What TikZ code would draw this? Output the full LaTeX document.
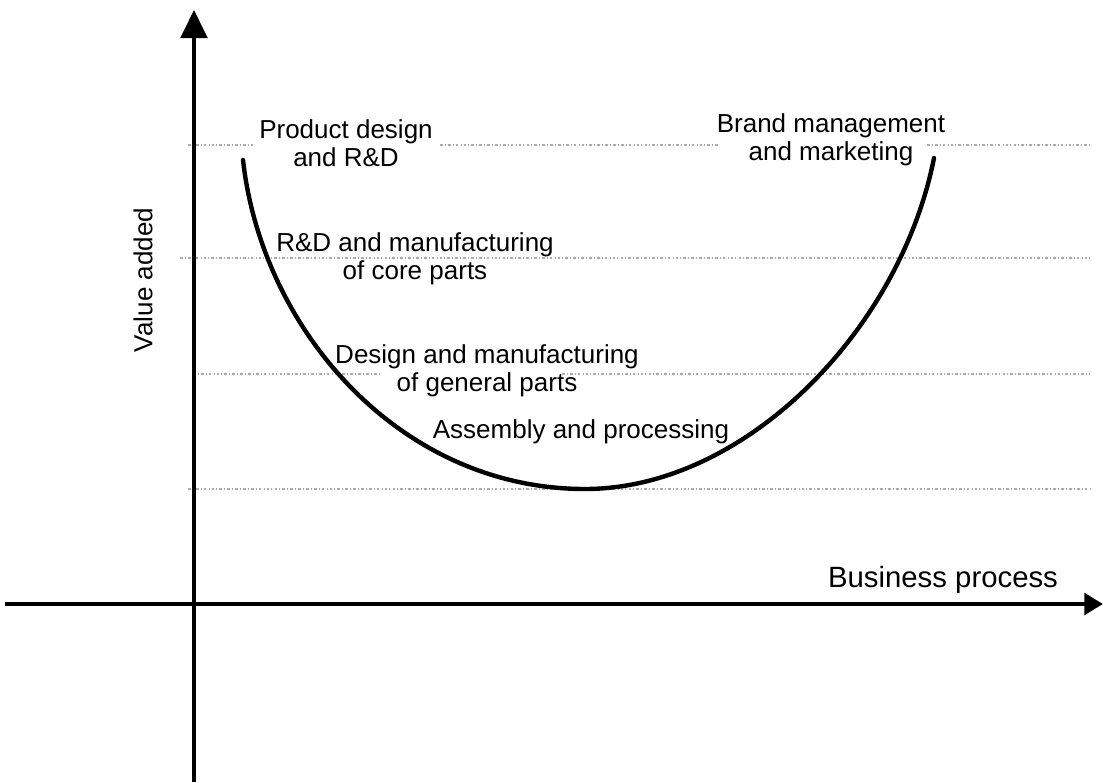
\documentclass[tikz,border=0pt]{standalone}
\usepackage{fontspec}
\setmainfont{Liberation Sans}
\usetikzlibrary{arrows.meta}
\begin{document}
\begin{tikzpicture}[x=0.75pt,y=-0.75pt,
  guide/.style={draw=gray!65,line width=0.8pt,dash pattern=on 2pt off 1.6pt on 0.7pt off 1.6pt},
  axis/.style={draw=black,line width=2.6pt},
  smile/.style={draw=black,line width=3.3pt,line cap=round},
  lbl/.style={align=center,inner sep=0pt,font=\fontsize{19.5}{21}\selectfont}]
\useasboundingbox (0,0) rectangle (1103,782);
\fill[white] (0,0) rectangle (1103,782);

% value levels
\draw[guide] (188,145) -- (253,145) (440,145) -- (720,145) (927,145) -- (1090,145);
\draw[guide] (180,258) -- (1090,258);
\draw[guide] (193,374) -- (380,374) (562,374) -- (1090,374);
\draw[guide] (188,489) -- (1090,489);

% smile curve
\coordinate (cL) at (243,160);
\coordinate (cB) at (585,489);
\coordinate (cR) at (934,158);
\draw[smile] (cL) .. controls (262,330) and (400,489) .. (cB)
             .. controls (745,489) and (900,330) .. (cR);

% axes
\coordinate (yB) at (194,782);
\coordinate (yT) at (194,10);
\coordinate (xL) at (5,604);
\coordinate (xR) at (1103,604);
\draw[axis,line width=2.4pt,-{Triangle[width=20pt,length=21pt]}] (yB) -- (yT);
\draw[axis,line width=3.4pt,-{Triangle[width=16pt,length=14pt]}] (xL) -- (xR);

% labels
\node[lbl] (pd) at (346,143) {Product design\\and R\&D};
\node[lbl] (bm) at (831,140) {Brand management\\and marketing};
\node[lbl] (core) at (415,259) {R\&D and manufacturing\\of core parts};
\node[lbl] (gen) at (487,371) {Design and manufacturing\\of general parts};
\node[lbl] (asm) at (581,432) {Assembly and processing};
\node[lbl,font=\fontsize{22}{24}\selectfont] (bp) at (943,580) {Business process};
\node[lbl,rotate=90] (va) at (143,280) {Value added};
\end{tikzpicture}
\end{document}
